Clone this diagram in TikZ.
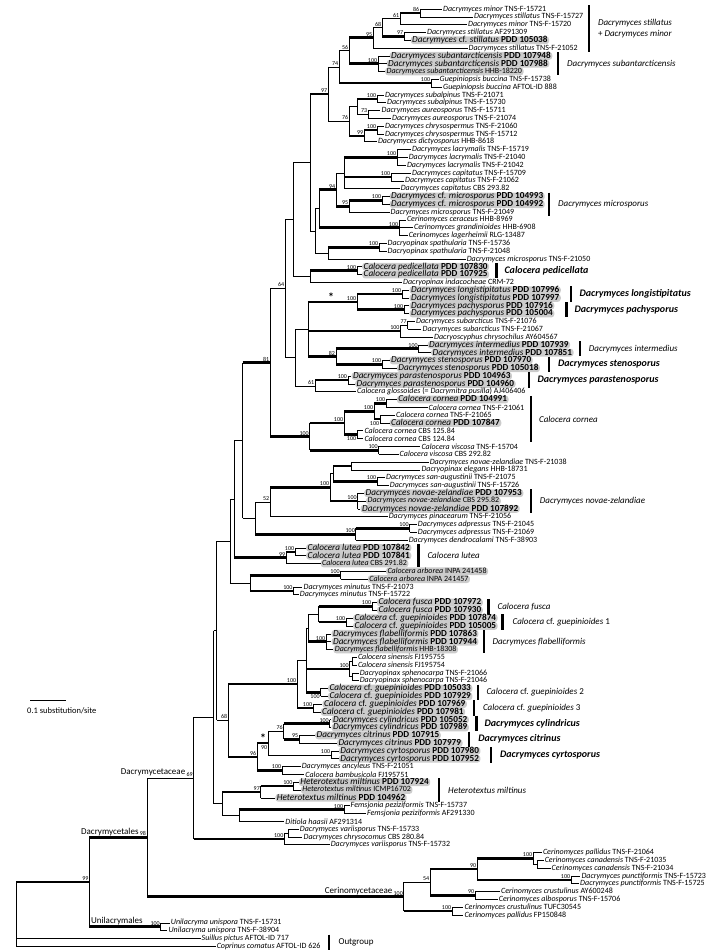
\documentclass[tikz,border=0pt]{standalone}
\usepackage{fontspec}
\setmainfont{Carlito}
\usetikzlibrary{calc}

% inner node: support, name, x, first child, last child
\newcommand{\nd}[5]{%
  \path let \p1=($(#4)!0.5!(#5)$) in (#3pt,\y1) coordinate (#2);
  \draw[br] (#2 |- #4) -- (#2 |- #5);
  \node[bs] (#2b) at (#2) {#1};}
\newcommand{\bl}[3][br]{\draw[#1] (#2 |- #3.west) -- (#3.west);}
\newcommand{\bn}[3][br]{\draw[#1] (#2 |- #3) -- (#3);}
\newcommand{\pdd}[1]{\textbf{PDD #1}}

\begin{document}
\begin{tikzpicture}[x=1pt, y=-7.81pt,
  leaf/.style={anchor=west, inner xsep=1pt, inner ysep=0.3pt, font=\fontsize{8}{9}\selectfont},
  hl/.style={leaf, fill=black!20, rounded corners=3pt, inner xsep=1.5pt, inner ysep=0pt, text height=6.3pt, text depth=1.5pt, font=\fontsize{9.2}{10}\selectfont},
  hls/.style={leaf, fill=black!20, rounded corners=3pt, inner xsep=1.5pt, inner ysep=0pt, text height=5.8pt, text depth=2pt},
  br/.style={line width=0.6pt},
  tk/.style={line width=2.6pt},
  bs/.style={anchor=south east, inner sep=0.4pt, yshift=0.9pt, xshift=-0.3pt, font=\fontsize{6}{6}\selectfont},
  bsb/.style={bs, anchor=north east, yshift=-2.4pt},
  ast/.style={anchor=south, inner sep=0pt, font=\fontsize{12}{12}\selectfont\bfseries},
  cbar/.style={line width=2.6pt},
  clade/.style={anchor=west, font=\fontsize{9}{11}\selectfont\itshape},
  cladeb/.style={anchor=west, font=\fontsize{10}{11}\selectfont\bfseries\itshape},
  grp/.style={inner sep=0.5pt, font=\fontsize{9}{10}\selectfont}]
\useasboundingbox (0,-0.152) rectangle (719,121.74);

% Leaves, one row each
\node[leaf] (l1) at (442,1) {\textit{Dacrymyces minor} TNS-F-15721};
\node[leaf] (l2) at (473,2) {\textit{Dacrymyces stillatus} TNS-F-15727};
\node[leaf] (l3) at (467,3) {\textit{Dacrymyces minor} TNS-F-15720};
\node[leaf] (l4) at (426,4) {\textit{Dacrymyces stillatus} AF291309};
\node[hl] (l5) at (410.5,5) {\textit{Dacrymyces} cf. \textit{stillatus} \pdd{105038}};
\node[leaf] (l6) at (467.5,6) {\textit{Dacrymyces stillatus} TNS-F-21052};
\node[hl] (l7) at (389.5,7) {\textit{Dacrymyces subantarcticensis} \pdd{107948}};
\node[hl] (l8) at (386.5,8) {\textit{Dacrymyces subantarcticensis} \pdd{107988}};
\node[hls] (l9) at (385,9) {\textit{Dacrymyces subantarcticensis} HHB-18220};
\node[leaf] (l10) at (438.5,10) {\textit{Guepiniopsis buccina} TNS-F-15738};
\node[leaf] (l11) at (442,11) {\textit{Guepiniopsis buccina} AFTOL-ID 888};
\node[leaf] (l12) at (384,12) {\textit{Dacrymyces subalpinus} TNS-F-21071};
\node[leaf] (l13) at (386,13) {\textit{Dacrymyces subalpinus} TNS-F-15730};
\node[leaf] (l14) at (380.4,14) {\textit{Dacrymyces aureosporus} TNS-F-15711};
\node[leaf] (l15) at (391,15) {\textit{Dacrymyces aureosporus} TNS-F-21074};
\node[leaf] (l16) at (384,16) {\textit{Dacrymyces chrysospermus} TNS-F-21060};
\node[leaf] (l17) at (384,17) {\textit{Dacrymyces chrysospermus} TNS-F-15712};
\node[leaf] (l18) at (376.8,18) {\textit{Dacrymyces dictyosporus} HHB-8618};
\node[leaf] (l19) at (411,19) {\textit{Dacrymyces lacrymalis} TNS-F-15719};
\node[leaf] (l20) at (407.6,20) {\textit{Dacrymyces lacrymalis} TNS-F-21040};
\node[leaf] (l21) at (405.8,21) {\textit{Dacrymyces lacrymalis} TNS-F-21042};
\node[leaf] (l22) at (411,22) {\textit{Dacrymyces capitatus} TNS-F-15709};
\node[leaf] (l23) at (404,23) {\textit{Dacrymyces capitatus} TNS-F-21062};
\node[leaf] (l24) at (399.6,24) {\textit{Dacrymyces capitatus} CBS 293.82};
\node[hl] (l25) at (389.5,25) {\textit{Dacrymyces} cf. \textit{microsporus} \pdd{104993}};
\node[hl] (l26) at (389.5,26) {\textit{Dacrymyces} cf. \textit{microsporus} \pdd{104992}};
\node[leaf] (l27) at (389.5,27) {\textit{Dacrymyces microsporus} TNS-F-21049};
\node[leaf] (l28) at (405.8,28) {\textit{Cerinomyces ceraceus} HHB-8969};
\node[leaf] (l29) at (413,29) {\textit{Cerinomyces grandinioides} HHB-6908};
\node[leaf] (l30) at (407.6,30) {\textit{Cerinomyces lagerheimii} RLG-13487};
\node[leaf] (l31) at (386.5,31) {\textit{Dacryopinax spathularia} TNS-F-15736};
\node[leaf] (l32) at (386.5,32) {\textit{Dacryopinax spathularia} TNS-F-21048};
\node[leaf] (l33) at (465.6,33) {\textit{Dacrymyces microsporus} TNS-F-21050};
\node[hl] (l34) at (362,34) {\textit{Calocera pedicellata} \pdd{107830}};
\node[hl] (l35) at (362,35) {\textit{Calocera pedicellata} \pdd{107925}};
\node[leaf] (l36) at (402,36) {\textit{Dacryopinax indacocheae} CRM-72};
\node[hl] (l37) at (409.4,37) {\textit{Dacrymyces longistipitatus} \pdd{107996}};
\node[hl] (l38) at (409.4,38) {\textit{Dacrymyces longistipitatus} \pdd{107997}};
\node[hl] (l39) at (409.4,39) {\textit{Dacrymyces pachysporus} \pdd{107916}};
\node[hl] (l40) at (409.4,40) {\textit{Dacrymyces pachysporus} \pdd{105004}};
\node[leaf] (l41) at (415,41) {\textit{Dacrymyces subarcticus} TNS-F-21076};
\node[leaf] (l42) at (421.4,42) {\textit{Dacrymyces subarcticus} TNS-F-21067};
\node[leaf] (l43) at (433,43) {\textit{Dacryoscyphus chrysochilus} AY604567};
\node[hl] (l44) at (427.5,44) {\textit{Dacrymyces intermedius} \pdd{107939}};
\node[hl] (l45) at (431,45) {\textit{Dacrymyces intermedius} \pdd{107851}};
\node[hl] (l46) at (389.5,46) {\textit{Dacrymyces stenosporus} \pdd{107970}};
\node[hl] (l47) at (396.7,47) {\textit{Dacrymyces stenosporus} \pdd{105018}};
\node[hl] (l48) at (351.4,48) {\textit{Dacrymyces parastenosporus} \pdd{104963}};
\node[hl] (l49) at (355,49) {\textit{Dacrymyces parastenosporus} \pdd{104960}};
\node[leaf] (l50) at (356,50) {\textit{Calocera glossoides} (= \textit{Dacrymitra pusilla}) AJ406406};
\node[hl] (l51) at (396.7,51) {\textit{Calocera cornea} \pdd{104991}};
\node[leaf] (l52) at (427.5,52) {\textit{Calocera cornea} TNS-F-21061};
\node[leaf] (l53) at (395,53) {\textit{Calocera cornea} TNS-F-21065};
\node[hl] (l54) at (389.5,54) {\textit{Calocera cornea} \pdd{107847}};
\node[leaf] (l55) at (363.3,55) {\textit{Calocera cornea} CBS 125.84};
\node[leaf] (l56) at (363.3,56) {\textit{Calocera cornea} CBS 124.84};
\node[leaf] (l57) at (420.3,57) {\textit{Calocera viscosa} TNS-F-15704};
\node[leaf] (l58) at (398.5,58) {\textit{Calocera viscosa} CBS 292.82};
\node[leaf] (l59) at (428.6,59) {\textit{Dacrymyces novae-zelandiae} TNS-F-21038};
\node[leaf] (l60) at (420.3,60) {\textit{Dacryopinax elegans} HHB-18731};
\node[leaf] (l61) at (385,61) {\textit{Dacrymyces san-augustinii} TNS-F-21075};
\node[leaf] (l62) at (388.7,62) {\textit{Dacrymyces san-augustinii} TNS-F-15726};
\node[hl] (l63) at (364,63) {\textit{Dacrymyces novae-zelandiae} \pdd{107953}};
\node[hls] (l64) at (365.9,64) {\textit{Dacrymyces novae-zelandiae} CBS 295.82};
\node[hl] (l65) at (360.4,65) {\textit{Dacrymyces novae-zelandiae} \pdd{107892}};
\node[leaf] (l66) at (387.6,66) {\textit{Dacrymyces pinacearum} TNS-F-21056};
\node[leaf] (l67) at (416.7,67) {\textit{Dacrymyces adpressus} TNS-F-21045};
\node[leaf] (l68) at (416.7,68) {\textit{Dacrymyces adpressus} TNS-F-21069};
\node[leaf] (l69) at (407.6,69) {\textit{Dacrymyces dendrocalami} TNS-F-38903};
\node[hl] (l70) at (306,70) {\textit{Calocera lutea} \pdd{107842}};
\node[hl] (l71) at (306,71) {\textit{Calocera lutea} \pdd{107841}};
\node[hls] (l72) at (320.5,72) {\textit{Calocera lutea} CBS 291.82};
\node[hls] (l73) at (385.8,73) {\textit{Calocera arborea} INPA 241458};
\node[hls] (l74) at (367.7,74) {\textit{Calocera arborea} INPA 241457};
\node[leaf] (l75) at (302.4,75) {\textit{Dacrymyces minutus} TNS-F-21073};
\node[leaf] (l76) at (298.7,76) {\textit{Dacrymyces minutus} TNS-F-15722};
\node[hl] (l77) at (376.8,77) {\textit{Calocera fusca} \pdd{107972}};
\node[hl] (l78) at (376.8,78) {\textit{Calocera fusca} \pdd{107930}};
\node[hl] (l79) at (353,79) {\textit{Calocera} cf. \textit{guepinioides} \pdd{107874}};
\node[hl] (l80) at (353,80) {\textit{Calocera} cf. \textit{guepinioides} \pdd{105005}};
\node[hl] (l81) at (331.4,81) {\textit{Dacrymyces flabelliformis} \pdd{107863}};
\node[hl] (l82) at (331.4,82) {\textit{Dacrymyces flabelliformis} \pdd{107944}};
\node[hls] (l83) at (333.2,83) {\textit{Dacrymyces flabelliformis} HHB-18308};
\node[leaf] (l84) at (356.8,84) {\textit{Calocera sinensis} FJ195755};
\node[leaf] (l85) at (356.8,85) {\textit{Calocera sinensis} FJ195754};
\node[leaf] (l86) at (358.6,86) {\textit{Dacryopinax sphenocarpa} TNS-F-21066};
\node[leaf] (l87) at (358.6,87) {\textit{Dacryopinax sphenocarpa} TNS-F-21046};
\node[hl] (l88) at (327.8,88) {\textit{Calocera} cf. \textit{guepinioides} \pdd{105033}};
\node[hl] (l89) at (327.8,89) {\textit{Calocera} cf. \textit{guepinioides} \pdd{107929}};
\node[hl] (l90) at (322.3,90) {\textit{Calocera} cf. \textit{guepinioides} \pdd{107969}};
\node[hl] (l91) at (320.5,91) {\textit{Calocera} cf. \textit{guepinioides} \pdd{107981}};
\node[hl] (l92) at (331.4,92) {\textit{Dacrymyces cylindricus} \pdd{105052}};
\node[hl] (l93) at (331.4,93) {\textit{Dacrymyces cylindricus} \pdd{107989}};
\node[hl] (l94) at (315,94) {\textit{Dacrymyces citrinus} \pdd{107915}};
\node[hl] (l95) at (336.8,95) {\textit{Dacrymyces citrinus} \pdd{107979}};
\node[hl] (l96) at (338.7,96) {\textit{Dacrymyces cyrtosporus} \pdd{107980}};
\node[hl] (l97) at (338.7,97) {\textit{Dacrymyces cyrtosporus} \pdd{107952}};
\node[leaf] (l98) at (300.6,98) {\textit{Dacrymyces ancyleus} TNS-F-21051};
\node[leaf] (l99) at (304.2,99) {\textit{Calocera bambusicola} FJ195751};
\node[hl] (l100) at (298.7,100) {\textit{Heterotextus miltinus} \pdd{107924}};
\node[hls] (l101) at (300.6,101) {\textit{Heterotextus miltinus} ICMP16702};
\node[hl] (l102) at (275.2,102) {\textit{Heterotextus miltinus} \pdd{104962}};
\node[leaf] (l103) at (349.5,103) {\textit{Femsjonia peziziformis} TNS-F-15737};
\node[leaf] (l104) at (365.9,104) {\textit{Femsjonia peziziformis} AF291330};
\node[leaf] (l105) at (284.2,105) {\textit{Ditiola haasii} AF291314};
\node[leaf] (l106) at (298.7,106) {\textit{Dacrymyces variisporus} TNS-F-15733};
\node[leaf] (l107) at (302.4,107) {\textit{Dacrymyces chrysocomus} CBS 280.84};
\node[leaf] (l108) at (329.6,108) {\textit{Dacrymyces variisporus} TNS-F-15732};
\node[leaf] (l109) at (541.8,109) {\textit{Cerinomyces pallidus} TNS-F-21064};
\node[leaf] (l110) at (543.6,110) {\textit{Cerinomyces canadensis} TNS-F-21035};
\node[leaf] (l111) at (550.5,111) {\textit{Cerinomyces canadensis} TNS-F-21034};
\node[leaf] (l112) at (580.3,112) {\textit{Dacrymyces punctiformis} TNS-F-15723};
\node[leaf] (l113) at (579,113) {\textit{Dacrymyces punctiformis} TNS-F-15725};
\node[leaf] (l114) at (500,114) {\textit{Cerinomyces crustulinus} AY600248};
\node[leaf] (l115) at (497.7,115) {\textit{Cerinomyces albosporus} TNS-F-15706};
\node[leaf] (l116) at (463.3,116) {\textit{Cerinomyces crustulinus} TUFC30545};
\node[leaf] (l117) at (463.3,117) {\textit{Cerinomyces pallidus} FP150848};
\node[leaf] (l118) at (169.7,118) {\textit{Unilacryma unispora} TNS-F-15731};
\node[leaf] (l119) at (167.4,119) {\textit{Unilacryma unispora} TNS-F-38904};
\node[leaf] (l120) at (200.5,120) {\textit{Suillus pictus} AFTOL-ID 717};
\node[leaf] (l121) at (215.6,121) {\textit{Coprinus comatus} AFTOL-ID 626};

% stillatus, subantarcticensis, buccina
\nd{86}{n86}{420}{l1}{l2} \bl{n86}{l1} \bl{n86}{l2}
\nd{61}{n61s}{400}{n86}{l3} \bn[tk]{n61s}{n86} \bl{n61s}{l3}
\nd{97}{n97s}{404}{l4}{l5} \bl{n97s}{l4} \bl{n97s}{l5}
\nd{68}{n68s}{382}{n61s}{n97s} \bn{n68s}{n61s} \bn[tk]{n68s}{n97s}
\nd{95}{n95}{373}{n68s}{l6} \bn{n95}{n68s} \bl{n95}{l6}
\nd{100}{nSub}{378}{l7}{l9} \bl{nSub}{l7} \bl{nSub}{l8} \bl{nSub}{l9}
\nd{56}{n56}{349}{n95}{nSub} \bn[tk]{n56}{n95} \bn[tk]{n56}{nSub}
\nd{100}{nGue}{431}{l10}{l11} \bl{nGue}{l10} \bl{nGue}{l11}
\nd{74}{n74}{339}{n56}{nGue} \bn{n74}{n56} \bn[tk]{n74}{nGue}
% subalpinus to dictyosporus
\nd{100}{nSalp}{377}{l12}{l13} \bl{nSalp}{l12} \bl{nSalp}{l13}
\nd{73}{n73}{368}{l14}{l15} \bl{n73}{l14} \bl{n73}{l15}
\nd{}{nA}{357}{nSalp}{n73} \bn[tk]{nA}{nSalp} \bn{nA}{n73}
\nd{100}{nChr}{377}{l16}{l17} \bl{nChr}{l16} \bl{nChr}{l17}
\nd{99}{n99c}{364}{nChr}{l18} \bn[tk]{n99c}{nChr} \bl{n99c}{l18}
\nd{76}{n76}{349}{nA}{n99c} \bn{n76}{nA} \bn[tk]{n76}{n99c}
\nd{97}{n97}{328}{n74}{n76} \bn{n97}{n74} \bn{n97}{n76}
% lacrymalis to spathularia
\nd{100}{nLac}{397}{l19}{l21} \bl{nLac}{l19} \bl{nLac}{l20} \bl{nLac}{l21}
\nd{100}{nCap}{391}{l22}{l23} \bl{nCap}{l22} \bl{nCap}{l23}
\nd{}{nLC}{344}{nLac}{l24} \bn[tk]{nLC}{nLac} \bn[tk]{nLC}{nCap} \bl{nLC}{l24}
\nd{100}{nMic}{382}{l25}{l26} \bl{nMic}{l25} \bl{nMic}{l26}
\nd{95}{n95m}{349}{nMic}{l27} \bn[tk]{n95m}{nMic} \bl{n95m}{l27}
\nd{94}{n94}{336}{nLC}{n95m} \bn{n94}{nLC} \bn[tk]{n94}{n95m}
\nd{100}{nCer}{399}{l28}{l30} \bl{nCer}{l28} \bl{nCer}{l29} \bl{nCer}{l30}
\nd{}{nX}{319}{n94}{nCer} \bn[tk]{nX}{n94} \bn[tk]{nX}{nCer}
\nd{100}{nSpa}{379}{l31}{l32} \bl{nSpa}{l31} \bl{nSpa}{l32}
\nd{}{n490}{328}{nSpa}{l33} \bn[tk]{n490}{nSpa} \bl{n490}{l33}
\nd{}{n455}{315}{nX}{n490} \bn{n455}{nX} \bn{n455}{n490}
\nd{}{n440}{310}{n97}{n455} \bn[tk]{n440}{n97} \bn{n440}{n455}
\nd{100}{nPed1}{357}{l34}{l35} \bl{nPed1}{l34} \bl{nPed1}{l35}
\nd{}{nPed}{310}{nPed1}{l36} \bn[tk]{nPed}{nPed1} \bl{nPed}{l36}
\nd{}{n395}{293}{n440}{nPed} \bn{n395}{n440} \bn{n395}{nPed}
% longistipitatus to glossoides
\nd{100}{nLon}{402}{l37}{l38} \bl{nLon}{l37} \bl{nLon}{l38}
\nd{100}{nPac}{404}{l39}{l40} \bl{nPac}{l39} \bl{nPac}{l40}
\nd{100}{nStar}{357}{nLon}{nPac} \bn[tk]{nStar}{nLon} \bn[tk]{nStar}{nPac}
\nd{77}{n77}{407.6}{l41}{l42} \bl{n77}{l41} \bl{n77}{l42}
\nd{100}{nSarc}{400.4}{n77}{l43} \bn{nSarc}{n77} \bl{nSarc}{l43}
\nd{100}{nInt}{418.5}{l44}{l45} \bl{nInt}{l44} \bl{nInt}{l45}
\nd{100}{nSte}{382}{l46}{l47} \bl{nSte}{l46} \bl{nSte}{l47}
\nd{82}{n82}{335.8}{nInt}{nSte} \bn[tk]{n82}{nInt} \bn[tk]{n82}{nSte}
\nd{}{nZ}{307.8}{nStar}{n82} \bn[tk]{nZ}{nStar} \bn[tk]{nZ}{nSarc} \bn[tk]{nZ}{n82}
\path (nStar) ++(-26,0) node[ast] (ast1) {*};
\nd{100}{nPar}{347.8}{l48}{l49} \bl{nPar}{l48} \bl{nPar}{l49}
\nd{61}{n61}{315}{nPar}{l50} \bn[tk]{n61}{nPar} \bl{n61}{l50}
\nd{}{n400}{295}{nZ}{n61} \bn{n400}{nZ} \bn{n400}{n61}
\nd{64}{n64}{285}{n395}{n400} \bn{n64}{n395} \bn{n64}{n400}
% cornea and viscosa
\nd{100}{nC1}{386}{l51}{l52} \bl{nC1}{l51} \bl{nC1}{l52}
\nd{}{nC2}{380}{l53}{l54} \bl{nC2}{l53} \bl{nC2}{l54}
\node[bsb] (nC2s) at (nC2) {100};
\nd{100}{nC12}{374}{nC1}{nC2} \bn[tk]{nC12}{nC1} \bn[tk]{nC12}{nC2}
\nd{}{nC4}{357}{l55}{l56} \bl{nC4}{l55} \bl{nC4}{l56}
\node[bsb] (nC4s) at (nC4) {100};
\nd{100}{nC3}{344}{nC12}{nC4} \bn[tk]{nC3}{nC12} \bn[tk]{nC3}{nC4}
\nd{100}{nVis}{378.6}{l57}{l58} \bl{nVis}{l57} \bl{nVis}{l58}
\nd{100}{nC5}{309.6}{nC3}{nVis} \bn[tk]{nC5}{nC3} \bn[tk]{nC5}{nVis}
\nd{81}{n81}{270}{n64}{nC5} \bn{n81}{n64} \bn[tk]{n81}{nC5}
% novae-zelandiae to dendrocalami
\nd{}{n5960}{351}{l59}{l60} \bl{n5960}{l59} \bl{n5960}{l60}
\nd{100}{nSA}{377}{l61}{l62} \bl{nSA}{l61} \bl{nSA}{l62}
\nd{}{nY}{333}{n5960}{nSA} \bn[tk]{nY}{n5960} \bn[tk]{nY}{nSA}
\nd{100}{nNZ}{357.5}{l63}{l65} \bl{nNZ}{l63} \bl{nNZ}{l64} \bl{nNZ}{l65}
\nd{100}{nNa}{330}{nY}{nNZ} \bn{nNa}{nY} \bn[tk]{nNa}{nNZ}
\nd{52}{n52}{270}{nNa}{l66} \bn[tk]{n52}{nNa} \bl{n52}{l66}
\nd{100}{nAd1}{409.5}{l67}{l68} \bl{nAd1}{l67} \bl{nAd1}{l68}
\nd{100}{nAd}{355.7}{nAd1}{l69} \bn[tk]{nAd}{nAd1} \bl{nAd}{l69}
\nd{}{nW}{255.2}{n52}{nAd} \bn{nW}{n52} \bn[tk]{nW}{nAd}
\nd{}{nV}{242.5}{n81}{nW} \bn[tk]{nV}{n81} \bn{nV}{nW}
% lutea, arborea, minutus
\nd{100}{nLu1}{295}{l70}{l71} \bl{nLu1}{l70} \bl{nLu1}{l71}
\nd{99}{nLu}{286}{nLu1}{l72} \bn[tk]{nLu}{nLu1} \bl{nLu}{l72}
\nd{}{nU1}{234.2}{nV}{nLu} \bn{nU1}{nV} \bn[tk]{nU1}{nLu}
\nd{100}{nArb}{340.5}{l73}{l74} \bl{nArb}{l73} \bl{nArb}{l74}
\nd{100}{nMin}{293.3}{l75}{l76} \bl{nMin}{l75} \bl{nMin}{l76}
\nd{}{nAM}{249.8}{nArb}{nMin} \bn[tk]{nAM}{nArb} \bn[tk]{nAM}{nMin}
\nd{}{nU2}{229.8}{nU1}{nAM} \bn{nU2}{nU1} \bn{nU2}{nAM}
% fusca to guepinioides 3
\nd{100}{nFus}{372}{l77}{l78} \bl{nFus}{l77} \bl{nFus}{l78}
\nd{100}{nG1}{346}{l79}{l80} \bl{nG1}{l79} \bl{nG1}{l80}
\nd{}{nFG}{318.7}{nFus}{nG1} \bn[tk]{nFG}{nFus} \bn[tk]{nFG}{nG1}
\nd{100}{nFla}{326}{l81}{l83} \bl{nFla}{l81} \bl{nFla}{l82} \bl{nFla}{l83}
\nd{}{nP}{307.8}{nFG}{nFla} \bn{nP}{nFG} \bn[tk]{nP}{nFla}
\nd{}{nSin}{352}{l84}{l85} \bl{nSin}{l84} \bl{nSin}{l85}
\nd{}{nSph}{352.5}{l86}{l87} \bl{nSph}{l86} \bl{nSph}{l87}
\nd{100}{nSS}{349.6}{nSin}{nSph} \bn{nSS}{nSin} \bn{nSS}{nSph}
\nd{}{nG2}{320.5}{l88}{l89} \bl{nG2}{l88} \bl{nG2}{l89}
\node[bsb] (nG2s) at (nG2) {100};
\nd{}{nQ}{306}{nP}{nG2} \bn{nQ}{nP} \bn[tk]{nQ}{nSS} \bn[tk]{nQ}{nG2}
\nd{100}{nG3}{313}{l90}{l91} \bl{nG3}{l90} \bl{nG3}{l91}
\nd{100}{nU}{297}{nQ}{nG3} \bn{nU}{nQ} \bn[tk]{nU}{nG3}
% cylindricus to bambusicola
\nd{100}{nCyl}{329.6}{l92}{l93} \bl{nCyl}{l92} \bl{nCyl}{l93}
\nd{95}{nCit}{299}{l94}{l95} \bl{nCit}{l94} \bl{nCit}{l95}
\nd{76}{n76b}{283.5}{nCyl}{nCit} \bn[tk]{n76b}{nCyl} \bn[tk]{n76b}{nCit}
\nd{100}{nCyr}{331}{l96}{l97} \bl{nCyr}{l96} \bl{nCyr}{l97}
\nd{}{n90}{268}{n76b}{nCyr} \bn{n90}{n76b} \bn{n90}{nCyr}
\node[bsb] (n90s) at (n90) {90};
\path (n90) ++(-5,0) node[ast] (ast2) {*};
\nd{100}{nAnc}{282}{l98}{l99} \bl{nAnc}{l98} \bl{nAnc}{l99}
\nd{96}{n96}{257}{n90}{nAnc} \bn[tk]{n96}{n90} \bn[tk]{n96}{nAnc}
\nd{68}{n68}{228}{nU}{n96} \bn[tk]{n68}{nU} \bn[tk]{n68}{n96}
\nd{}{nJ}{216.5}{nU2}{n68} \bn{nJ}{nU2} \bn{nJ}{n68}
% Heterotextus, Femsjonia, Ditiola, variisporus
\nd{100}{nHe1}{293.3}{l100}{l101} \bl{nHe1}{l100} \bl{nHe1}{l101}
\nd{97}{nHe}{260.7}{nHe1}{l102} \bn[tk]{nHe}{nHe1} \bl{nHe}{l102}
\nd{100}{nFem}{344}{l103}{l104} \bl{nFem}{l103} \bl{nFem}{l104}
\nd{}{nFD}{238.9}{nFem}{l105} \bn[tk]{nFD}{nFem} \bl{nFD}{l105}
\nd{}{nB}{222}{nHe}{nFD} \bn[tk]{nB}{nHe} \bn{nB}{nFD}
\nd{}{nK}{213.5}{nJ}{nB} \bn{nK}{nJ} \bn{nK}{nB}
\nd{}{nV2}{288}{l106}{l107} \bl{nV2}{l106} \bl{nV2}{l107}
\nd{100}{nVar}{284.2}{nV2}{l108} \bn{nVar}{nV2} \bl{nVar}{l108}
\nd{69}{n69}{193.5}{nK}{nVar} \bn{n69}{nK} \bn[tk]{n69}{nVar}
\node[grp, anchor=south east] (gDcae) at (n69b.south west) {Dacrymycetaceae};
% Cerinomycetaceae
\nd{}{nCa}{537}{l110}{l111} \bl{nCa}{l110} \bl{nCa}{l111}
\nd{100}{nPa}{533}{l109}{nCa} \bl{nPa}{l109} \bn{nPa}{nCa}
\nd{100}{nPu}{571}{l112}{l113} \bl{nPu}{l112} \bl{nPu}{l113}
\nd{90}{n90a}{477}{nPa}{nPu} \bn[tk]{n90a}{nPa} \bn[tk]{n90a}{nPu}
\nd{90}{n90b}{475}{l114}{l115} \bl{n90b}{l114} \bl{n90b}{l115}
\nd{54}{n54}{430}{n90a}{n90b} \bn[tk]{n54}{n90a} \bn[tk]{n54}{n90b}
\nd{100}{nCb}{452}{l116}{l117} \bl{nCb}{l116} \bl{nCb}{l117}
\nd{100}{nCer0}{403.7}{n54}{nCb} \bn{nCer0}{n54} \bn[tk]{nCer0}{nCb}
\node[grp, anchor=south east] (gCer) at (nCer0b.south west) {Cerinomycetaceae};
% orders and root
\nd{98}{nDal}{146.8}{n69}{nCer0} \bn{nDal}{n69} \bn[tk]{nDal}{nCer0}
\node[grp, anchor=south east] (gDal) at (nDalb.south west) {Dacrymycetales};
\nd{100}{nUni}{160.6}{l118}{l119} \bl{nUni}{l118} \bl{nUni}{l119}
\nd{99}{nDes}{89.4}{nDal}{nUni} \bn[tk]{nDes}{nDal} \bn[tk]{nDes}{nUni}
\path (nDes |- nUni) ++(1,0) node[grp, anchor=south west, yshift=0.9pt] (gUni) {Unilacrymales};
\nd{}{nRoot}{16}{nDes}{l121} \bn[tk]{nRoot}{nDes} \bl{nRoot}{l120} \bl{nRoot}{l121}

% Species bars
\draw[cbar] (589,0.52) -- (589,6.48);
\node[clade, align=left] (cStil) at (594.5,3.5) {Dacrymyces stillatus\\{\upshape +} Dacrymyces minor};
\draw[cbar] (558,6.52) -- (558,9.48);
\node[clade] (cSub) at (563.6,8) {Dacrymyces subantarcticensis};
\draw[cbar] (549,24.52) -- (549,27.48);
\node[clade] (cMic) at (554.6,26) {Dacrymyces microsporus};
\draw[cbar] (496.5,33.52) -- (496.5,35.48);
\node[cladeb] (cPed) at (501,34.5) {Calocera pedicellata};
\draw[cbar] (571,36.52) -- (571,38.48);
\node[cladeb] (cLon) at (576,37.5) {Dacrymyces longistipitatus};
\draw[cbar] (566.5,38.52) -- (566.5,40.48);
\node[cladeb] (cPac) at (571,39.5) {Dacrymyces pachysporus};
\draw[cbar] (580,43.52) -- (580,45.48);
\node[clade] (cInt) at (585.4,44.5) {Dacrymyces intermedius};
\draw[cbar] (549,45.52) -- (549,47.48);
\node[cladeb] (cSte) at (554.6,46.5) {Dacrymyces stenosporus};
\draw[cbar] (529,47.52) -- (529,49.48);
\node[cladeb] (cPar) at (534,48.5) {Dacrymyces parastenosporus};
\draw[cbar] (531,50.52) -- (531,56.48);
\node[clade] (cCor) at (535.5,53.5) {Calocera cornea};
\draw[cbar] (531,62.52) -- (531,65.48);
\node[clade] (cNZ) at (536.4,64) {Dacrymyces novae-zelandiae};
\draw[cbar] (418.5,69.52) -- (418.5,72.48);
\node[clade] (cLut) at (424,71) {Calocera lutea};
\draw[cbar] (488.5,76.52) -- (488.5,78.48);
\node[clade] (cFus) at (494,77.5) {Calocera fusca};
\draw[cbar] (502.7,78.52) -- (502.7,80.48);
\node[clade] (cG1) at (509,79.5) {Calocera {\upshape cf.} guepinioides {\upshape 1}};
\draw[cbar] (483.8,80.52) -- (483.8,83.48);
\node[clade] (cFla) at (489,82) {Dacrymyces flabelliformis};
\draw[cbar] (478,87.52) -- (478,89.48);
\node[clade] (cG2) at (483,88.5) {Calocera {\upshape cf.} guepinioides {\upshape 2}};
\draw[cbar] (474,89.52) -- (474,91.48);
\node[clade] (cG3) at (479.5,90.5) {Calocera {\upshape cf.} guepinioides {\upshape 3}};
\draw[cbar] (476.6,91.52) -- (476.6,93.48);
\node[cladeb] (cCyl) at (481,92.5) {Dacrymyces cylindricus};
\draw[cbar] (469,93.52) -- (469,95.48);
\node[cladeb] (cCit) at (474.7,94.5) {Dacrymyces citrinus};
\draw[cbar] (491,95.52) -- (491,97.48);
\node[cladeb] (cCyr) at (496.5,96.5) {Dacrymyces cyrtosporus};
\draw[cbar] (439,99.52) -- (439,102.48);
\node[clade] (cHet) at (444.6,101) {Heterotextus miltinus};
\draw[cbar] (329,119.52) -- (329,121.48);
\node[clade, font=\fontsize{9}{10}\selectfont] (cOut) at (335,120.5) {Outgroup};

% Scale bar
\coordinate (sbL) at (30,89.5);
\coordinate (sbR) at (66,89.5);
\draw[line width=0.8pt] (sbL) -- (sbR);
\node[anchor=north west, inner sep=0pt, font=\fontsize{8.5}{9}\selectfont] (sbT) at (27,90.4) {0.1 substitution/site};
\end{tikzpicture}
\end{document}
